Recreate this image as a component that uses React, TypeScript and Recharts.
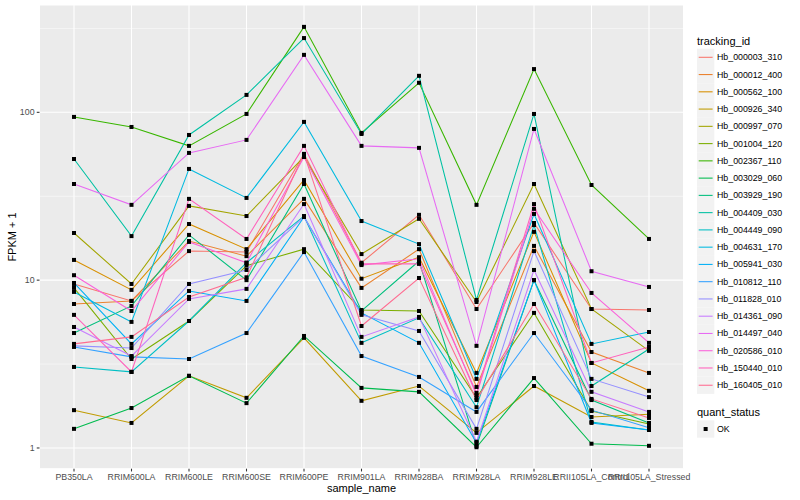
import React from "react";
import { LineChart, Line, XAxis, YAxis, CartesianGrid, ReferenceLine } from "recharts";

const FONT = "'Liberation Sans', Arial, Helvetica, sans-serif";

const samples = [
  "PB350LA",
  "RRIM600LA",
  "RRIM600LE",
  "RRIM600SE",
  "RRIM600PE",
  "RRIM901LA",
  "RRIM928BA",
  "RRIM928LA",
  "RRIM928LE",
  "RRII105LA_Control",
  "RRII105LA_Stressed",
];

// FPKM + 1 per sample
const hb000003_310 = [9.49, 7.52, 14.9, 14.7, 56.5, 12.7, 24.5, 6.73, 21.9, 6.73, 6.64];
const hb000012_400 = [7.21, 7.52, 17.1, 13.9, 30.5, 8.99, 15.3, 2.31, 16.0, 3.73, 2.8];
const hb000562_100 = [13.2, 8.75, 21.6, 15.3, 39.5, 10.2, 13.7, 2.8, 19.4, 3.21, 2.19];
const hb000926_340 = [1.68, 1.41, 2.69, 1.99, 4.53, 1.91, 2.34, 1.23, 2.34, 1.53, 1.59];
const hb000997_070 = [19.1, 9.49, 27.7, 24.1, 54.2, 14.3, 23.2, 7.41, 37.4, 6.73, 3.79];
const hb001004_120 = [8.99, 3.39, 5.71, 12.2, 15.3, 6.64, 6.55, 1.99, 6.38, 1.66, 1.39];
const hb002367_110 = [93.9, 81.8, 63.1, 97.8, 323, 75.4, 150, 28.1, 181, 36.9, 17.6];
const hb003029_060 = [1.3, 1.73, 2.69, 1.85, 4.65, 2.28, 2.16, 1.01, 2.61, 1.06, 1.03];
const hb003929_190 = [4.84, 7.02, 18.6, 10.0, 37.4, 6.55, 13.0, 1.03, 10.0, 1.93, 1.41];
const hb004409_030 = [52.7, 18.3, 73.3, 127, 277, 74.3, 165, 7.62, 97.8, 2.34, 3.89];
const hb004449_090 = [3.04, 2.84, 5.71, 12.7, 24.1, 4.23, 5.96, 1.75, 21.3, 1.43, 1.28];
const hb004631_170 = [8.51, 5.64, 46.0, 30.9, 87.7, 22.5, 16.4, 2.58, 24.8, 4.17, 4.91];
const hb005941_030 = [9.62, 4.17, 8.62, 7.52, 23.8, 6.38, 4.23, 1.07, 10.0, 1.41, 1.28];
const hb010812_110 = [4.0, 3.49, 3.39, 4.84, 14.7, 3.53, 2.65, 1.64, 4.84, 1.68, 1.32];
const hb011828_010 = [4.06, 3.94, 9.49, 11.5, 23.8, 6.21, 4.98, 1.3, 14.9, 2.58, 2.01];
const hb014361_090 = [5.26, 3.53, 7.73, 8.87, 28.4, 4.59, 6.04, 1.09, 11.5, 2.16, 1.64];
const hb014497_040 = [37.4, 28.1, 57.3, 68.5, 220, 63.1, 61.4, 4.06, 79.6, 11.3, 9.11];
const hb020586_010 = [10.7, 6.55, 16.9, 12.7, 54.2, 12.3, 13.4, 2.07, 26.6, 8.39, 4.23];
const hb150440_010 = [6.21, 2.84, 30.5, 17.6, 63.1, 12.5, 12.5, 2.13, 28.4, 3.21, 4.0];
const hb160405_010 = [4.17, 4.59, 7.94, 10.4, 56.5, 5.33, 10.3, 1.93, 7.21, 1.96, 1.51];

const trackingIds = [
  "Hb_000003_310",
  "Hb_000012_400",
  "Hb_000562_100",
  "Hb_000926_340",
  "Hb_000997_070",
  "Hb_001004_120",
  "Hb_002367_110",
  "Hb_003029_060",
  "Hb_003929_190",
  "Hb_004409_030",
  "Hb_004449_090",
  "Hb_004631_170",
  "Hb_005941_030",
  "Hb_010812_110",
  "Hb_011828_010",
  "Hb_014361_090",
  "Hb_014497_040",
  "Hb_020586_010",
  "Hb_150440_010",
  "Hb_160405_010",
];

const seriesValues = [
  hb000003_310, hb000012_400, hb000562_100, hb000926_340, hb000997_070,
  hb001004_120, hb002367_110, hb003029_060, hb003929_190, hb004409_030,
  hb004449_090, hb004631_170, hb005941_030, hb010812_110, hb011828_010,
  hb014361_090, hb014497_040, hb020586_010, hb150440_010, hb160405_010,
];

// ggplot2 default hue palette for 20 levels
const lineColors = [
  "#F8766D", "#EA8331", "#D89000", "#C09B00", "#A3A500",
  "#7CAE00", "#39B600", "#00BB4E", "#00BF7D", "#00C1A3",
  "#00BFC4", "#00BAE0", "#00B0F6", "#35A2FF", "#9590FF",
  "#C77CFF", "#E76BF3", "#FA62DB", "#FF62BC", "#FF6C91",
];

const yTicks = [1, 10, 100];
const minorBreaks = [3.1623, 31.623, 316.23];
const qualityLevels = ["OK"];

const rows = samples.map((sample, i) => {
  const row: Record<string, string | number> = { sample };
  trackingIds.forEach((id, k) => {
    row[id] = seriesValues[k][i];
  });
  return row;
});

const squareDot = (props: any) => {
  const { cx, cy, index, dataKey } = props;
  if (cx == null || cy == null) return <g key={`d-${dataKey}-${index}`} />;
  return (
    <rect
      key={`d-${dataKey}-${index}`}
      x={cx - 2}
      y={cy - 2}
      width={4}
      height={4}
      fill="#000000"
    />
  );
};

function Legend() {
  const x0 = 697;
  const key = 17.3;
  const step = 17.26;
  const firstY = 57.3;
  const okY = 429;
  return (
    <svg
      width={800}
      height={500}
      style={{ position: "absolute", left: 0, top: 0, pointerEvents: "none" }}
      fontFamily={FONT}
    >
      <text x={x0} y={40.7} fontSize={11} dominantBaseline="central" fill="#000">
        tracking_id
      </text>
      {trackingIds.map((id, i) => {
        const cy = firstY + step * i;
        return (
          <g key={id}>
            <rect x={x0} y={cy - key / 2} width={key} height={key} fill="#F2F2F2" />
            <line x1={x0 + 1.7} x2={x0 + key - 1.7} y1={cy} y2={cy} stroke={lineColors[i]} strokeWidth={1.07} />
            <text x={717} y={cy} fontSize={8.8} dominantBaseline="central" fill="#000">
              {id}
            </text>
          </g>
        );
      })}
      <text x={x0} y={412} fontSize={11} dominantBaseline="central" fill="#000">
        quant_status
      </text>
      {qualityLevels.map((q) => (
        <g key={q}>
          <rect x={x0} y={okY - key / 2} width={key} height={key} fill="#F2F2F2" />
          <rect x={x0 + key / 2 - 2} y={okY - 2} width={4} height={4} fill="#000" />
          <text x={717} y={okY} fontSize={8.8} dominantBaseline="central" fill="#000">
            {q}
          </text>
        </g>
      ))}
    </svg>
  );
}

export default function App() {
  return (
    <div
      style={{
        position: "absolute",
        left: 0,
        top: 0,
        width: 800,
        height: 500,
        background: "#FFFFFF",
        fontFamily: FONT,
      }}
    >
      <LineChart
        width={800}
        height={500}
        data={rows}
        margin={{ top: 5, right: 116.5, bottom: 0, left: 0 }}
      >
        <CartesianGrid fill="#EBEBEB" stroke="#FFFFFF" strokeWidth={1.07} />
        {minorBreaks.map((v) => (
          <ReferenceLine key={v} y={v} stroke="#FFFFFF" strokeWidth={0.53} />
        ))}
        <XAxis
          dataKey="sample"
          interval={0}
          padding={{ left: 34.5, right: 34.5 }}
          height={31.3}
          axisLine={false}
          tickLine={{ stroke: "#333333", strokeWidth: 1.07 }}
          tickSize={2.75}
          tickMargin={2.2}
          tick={{ fill: "#4D4D4D", fontSize: 8.8 }}
          label={(p: any) => (
            <text x={361.5} y={488} textAnchor="middle" dominantBaseline="central" fontSize={11} fill="#000">
              sample_name
            </text>
          )}
        />
        <YAxis
          scale="log"
          domain={[0.7525, 436]}
          allowDataOverflow
          ticks={yTicks}
          width={39.5}
          axisLine={false}
          tickLine={{ stroke: "#333333", strokeWidth: 1.07 }}
          tickSize={2.75}
          tickMargin={2.2}
          tick={{ fill: "#4D4D4D", fontSize: 8.8 }}
          label={(p: any) => (
            <text
              x={12}
              y={237}
              transform="rotate(-90 12 237)"
              textAnchor="middle"
              dominantBaseline="central"
              fontSize={11}
              fill="#000"
            >
              FPKM + 1
            </text>
          )}
        />
        {trackingIds.map((id, i) => (
          <Line
            key={id}
            dataKey={id}
            type="linear"
            stroke={lineColors[i]}
            strokeWidth={1.07}
            dot={false}
            activeDot={false}
            isAnimationActive={false}
          />
        ))}
        {trackingIds.map((id) => (
          <Line
            key={`pts-${id}`}
            dataKey={id}
            stroke="none"
            dot={squareDot}
            activeDot={false}
            legendType="none"
            isAnimationActive={false}
          />
        ))}
      </LineChart>
      <Legend />
    </div>
  );
}
